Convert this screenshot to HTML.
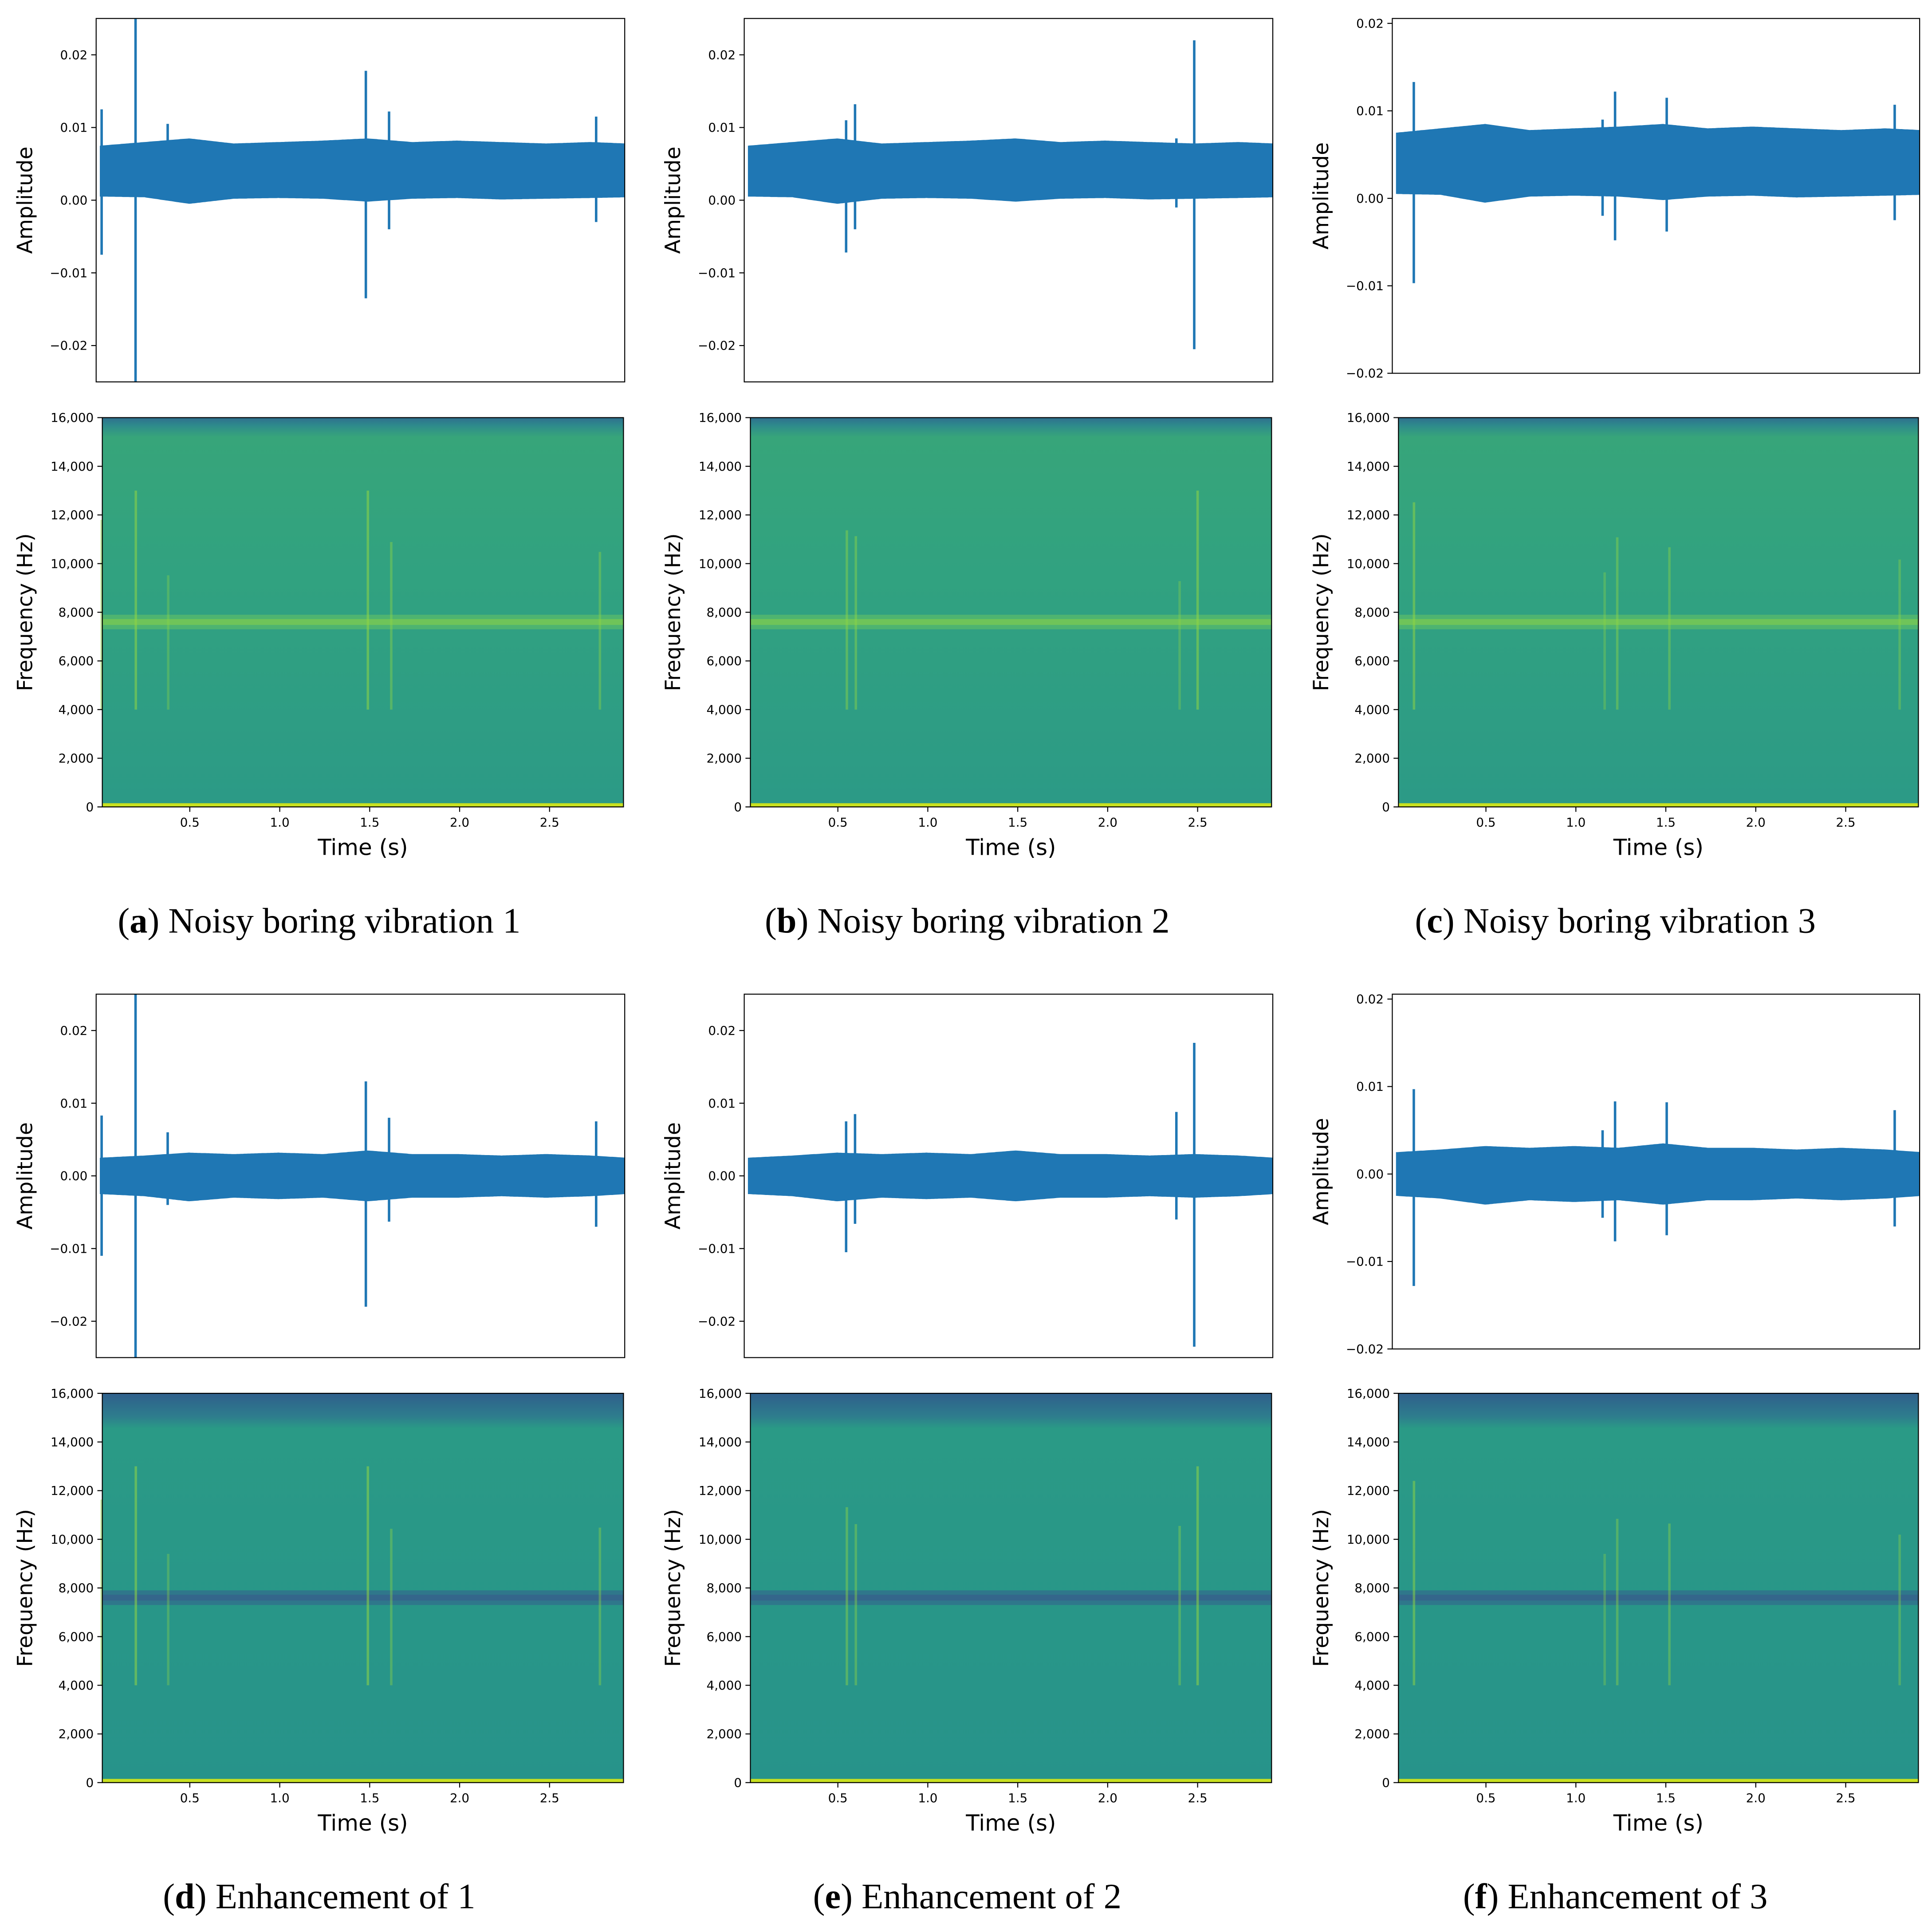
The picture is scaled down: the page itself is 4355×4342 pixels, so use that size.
<!DOCTYPE html>
<html><head><meta charset="utf-8"><style>
html,body{margin:0;padding:0;background:#fff}
svg{display:block}
text{font-family:"DejaVu Sans","Liberation Sans",sans-serif}
.cap{font-family:"Liberation Serif",serif;font-size:29px}
</style></head><body>
<svg id="fig" xmlns="http://www.w3.org/2000/svg" width="4355" height="4342" viewBox="0 0 1568 1563.4">
<defs>
<linearGradient id="gTop" x1="0" y1="0" x2="0" y2="1">
<stop offset="0" stop-color="#2f6f8e"/><stop offset="0.02" stop-color="#2e8a8c"/><stop offset="0.05" stop-color="#37a57a"/><stop offset="0.4" stop-color="#31a280"/><stop offset="1" stop-color="#2c9a86"/></linearGradient>
<linearGradient id="gBot" x1="0" y1="0" x2="0" y2="1">
<stop offset="0" stop-color="#2f5f8c"/><stop offset="0.06" stop-color="#2e7d8d"/><stop offset="0.09" stop-color="#2a9a86"/><stop offset="1" stop-color="#27938a"/></linearGradient>
</defs>
</svg>
<script>
// ---- data ----
const waveTickVals = [-0.02,-0.01,0.00,0.01,0.02];
const waveTickLabels = ["\u22120.02","\u22120.01","0.00","0.01","0.02"];
const freqTickVals = [0,2000,4000,6000,8000,10000,12000,14000,16000];
const freqTickLabels = ["0","2,000","4,000","6,000","8,000","10,000","12,000","14,000","16,000"];
const timeTickVals = [0.5,1.0,1.5,2.0,2.5];
const timeTickLabels = ["0.5","1.0","1.5","2.0","2.5"];
const envTimes = [0,0.25,0.5,0.75,1.0,1.25,1.5,1.75,2.0,2.25,2.5,2.75,2.95];
const noisyUpper = [0.0075,0.008,0.0085,0.0078,0.008,0.0082,0.0085,0.008,0.0082,0.008,0.0078,0.008,0.0078];
const noisyLower = [0.0005,0.0004,-0.0005,0.0002,0.0003,0.0002,-0.0002,0.0002,0.0003,0.0001,0.0002,0.0003,0.0004];
const enhUpper = [0.0025,0.0028,0.0032,0.003,0.0032,0.003,0.0035,0.003,0.003,0.0028,0.003,0.0028,0.0025];
const enhLower = [-0.0025,-0.0028,-0.0035,-0.003,-0.0032,-0.003,-0.0035,-0.003,-0.003,-0.0028,-0.003,-0.0028,-0.0025];
const spikeTimesA = [0.01,0.2,0.38,1.49,1.62,2.78];
const spikeHiA = [0.0125,0.03,0.0105,0.0178,0.0122,0.0115];
const spikeLoA = [-0.0075,-0.03,0.0,-0.0135,-0.004,-0.003];
const spikeTimesB = [0.55,0.6,2.4,2.5];
const spikeHiB = [0.011,0.0132,0.0085,0.022];
const spikeLoB = [-0.0072,-0.004,-0.001,-0.0205];
const spikeTimesC = [0.1,1.16,1.23,1.52,2.8];
const spikeHiC = [0.0133,0.009,0.0122,0.0115,0.0107];
const spikeLoC = [-0.0097,-0.002,-0.0048,-0.0038,-0.0025];
const spikeHiD = [0.0083,0.03,0.006,0.013,0.008,0.0075];
const spikeLoD = [-0.011,-0.03,-0.004,-0.018,-0.0063,-0.007];
const spikeHiE = [0.0075,0.0085,0.0088,0.0183];
const spikeLoE = [-0.0105,-0.0066,-0.006,-0.0235];
const spikeHiF = [0.0097,0.005,0.0083,0.0082,0.0073];
const spikeLoF = [-0.0128,-0.005,-0.0077,-0.007,-0.006];
const bandFreq = 7600;
const captions = [["a","Noisy boring vibration 1"],["b","Noisy boring vibration 2"],["c","Noisy boring vibration 3"],["d","Enhancement of 1"],["e","Enhancement of 2"],["f","Enhancement of 3"]];

const NS="http://www.w3.org/2000/svg";
const svg=document.getElementById('fig');
function mk(tag,attrs,parent){const e=document.createElementNS(NS,tag);for(const k in attrs)e.setAttribute(k,attrs[k]);(parent||svg).appendChild(e);return e;}
function interp(xs,ys,x){for(let i=0;i<xs.length-1;i++){if(x<=xs[i+1]){const f=(x-xs[i])/(xs[i+1]-xs[i]);return ys[i]+f*(ys[i+1]-ys[i]);}}return ys[ys.length-1];}

const colX=[[78,507],[604,1033],[1130,1558]];
const panels=[
 {col:0,row:0,times:spikeTimesA,hi:spikeHiA,lo:spikeLoA,up:noisyUpper,dn:noisyLower,enh:false},
 {col:1,row:0,times:spikeTimesB,hi:spikeHiB,lo:spikeLoB,up:noisyUpper,dn:noisyLower,enh:false},
 {col:2,row:0,times:spikeTimesC,hi:spikeHiC,lo:spikeLoC,up:noisyUpper,dn:noisyLower,enh:false},
 {col:0,row:1,times:spikeTimesA,hi:spikeHiD,lo:spikeLoD,up:enhUpper,dn:enhLower,enh:true},
 {col:1,row:1,times:spikeTimesB,hi:spikeHiE,lo:spikeLoE,up:enhUpper,dn:enhLower,enh:true},
 {col:2,row:1,times:spikeTimesC,hi:spikeHiF,lo:spikeLoF,up:enhUpper,dn:enhLower,enh:true}];

panels.forEach((p,idx)=>{
 const oy=p.row*792;
 const [x0,x1]=colX[p.col];
 const g=mk('g',{});
 
 
 const isC=p.col===2;
 const wt=15+oy, wb=(isC?303:310)+oy;
 const ymax=isC?0.02056:0.025, ymin=isC?-0.02:-0.025;
 const yW=v=>wt+(ymax-v)/(ymax-ymin)*(wb-wt);
 const xW=t=>x0+3+t*(x1-x0-3)/2.94;
 const clipId='cw'+idx;
 const cp=mk('clipPath',{id:clipId},g);mk('rect',{x:x0,y:wt,width:x1-x0,height:wb-wt},cp);
 const wg=mk('g',{'clip-path':'url(#'+clipId+')'},g);
 
 
 let pts=[];
 for(let t=0;t<=2.96;t+=0.01)pts.push(xW(t).toFixed(1)+','+yW(interp(envTimes,p.up,t)).toFixed(1));
 for(let t=2.96;t>=0;t-=0.01)pts.push(xW(t).toFixed(1)+','+yW(interp(envTimes,p.dn,t)).toFixed(1));
 mk('polygon',{points:pts.join(' '),fill:'#1f77b4'},wg);
 p.times.forEach((t,i)=>{
  const l=mk('line',{x1:xW(t),x2:xW(t),y1:yW(p.hi[i]),y2:yW(p.lo[i]),stroke:'#1f77b4','stroke-width':2},wg);
  
  
 });
 mk('rect',{x:x0,y:wt,width:x1-x0,height:wb-wt,fill:'none',stroke:'#000','stroke-width':0.8},g);
 waveTickVals.forEach((v,i)=>{
  const y=yW(v);
  mk('line',{x1:x0-4,x2:x0,y1:y,y2:y,stroke:'#000','stroke-width':0.8},g);
  const tx=mk('text',{x:x0-7,y:y+3.5,'font-size':10,'text-anchor':'end'},g);tx.textContent=waveTickLabels[i];
 });
 const al=mk('text',{x:0,y:0,'font-size':17,'text-anchor':'middle',transform:`translate(${x0-52},${(wt+wb)/2}) rotate(-90)`},g);
 al.textContent='Amplitude';
 const sx0=x0+5, sx1=x1-1, st=339+oy, sb=655+oy;
 const yF=f=>sb-(f/16000)*(sb-st);
 const xS=t=>81+p.col*526+146*t;
 const sg=mk('g',{},g);
 
 
 mk('rect',{x:sx0,y:st,width:sx1-sx0,height:sb-st,fill:p.enh?'url(#gBot)':'url(#gTop)'},sg);
 mk('rect',{x:sx0,y:yF(bandFreq+300),width:sx1-sx0,height:yF(bandFreq-300)-yF(bandFreq+300),fill:p.enh?'#33638d':'#6cc860',opacity:p.enh?0.6:0.5},sg);
 mk('rect',{x:sx0,y:yF(bandFreq+120),width:sx1-sx0,height:yF(bandFreq-120)-yF(bandFreq+120),fill:p.enh?'#3b528b':'#9ad63e',opacity:0.45},sg);
 mk('rect',{x:sx0,y:sb-3,width:sx1-sx0,height:3,fill:'#c8e020'},sg);
 p.times.forEach((t,i)=>{
  const mag=Math.min(1,Math.abs(p.hi[i]-p.lo[i])/0.025);
  const r=mk('rect',{x:xS(t)-1,y:yF(7000+6000*mag),width:2,height:yF(4000)-yF(7000+6000*mag),fill:'#8fd544',opacity:0.2+0.35*mag},sg);
  
  
 });
 mk('rect',{x:sx0,y:st,width:sx1-sx0,height:sb-st,fill:'none',stroke:'#000','stroke-width':0.8},g);
 freqTickVals.forEach((v,i)=>{
  const y=yF(v);
  mk('line',{x1:sx0-4,x2:sx0,y1:y,y2:y,stroke:'#000','stroke-width':0.8},g);
  const tx=mk('text',{x:sx0-7,y:y+3.5,'font-size':10,'text-anchor':'end'},g);tx.textContent=freqTickLabels[i];
 });
 timeTickVals.forEach((v,i)=>{
  const x=xS(v);
  mk('line',{x1:x,x2:x,y1:sb,y2:sb+4,stroke:'#000','stroke-width':0.8},g);
  const tx=mk('text',{x:x,y:sb+16,'font-size':10,'text-anchor':'middle'},g);tx.textContent=timeTickLabels[i];
 });
 const fl=mk('text',{x:0,y:0,'font-size':17,'text-anchor':'middle',transform:`translate(${x0-52},${(st+sb)/2}) rotate(-90)`},g);
 fl.textContent='Frequency (Hz)';
 const tl=mk('text',{x:(sx0+sx1)/2,y:sb+39,'font-size':18,'text-anchor':'middle'},g);
 tl.textContent='Time (s)';
 const cap=mk('text',{x:259+p.col*526,y:757+oy,'text-anchor':'middle','class':'cap'},g);
 
 
 cap.innerHTML='(<tspan font-weight="bold">'+captions[idx][0]+'</tspan>) '+captions[idx][1];
});
</script>
</body></html>
